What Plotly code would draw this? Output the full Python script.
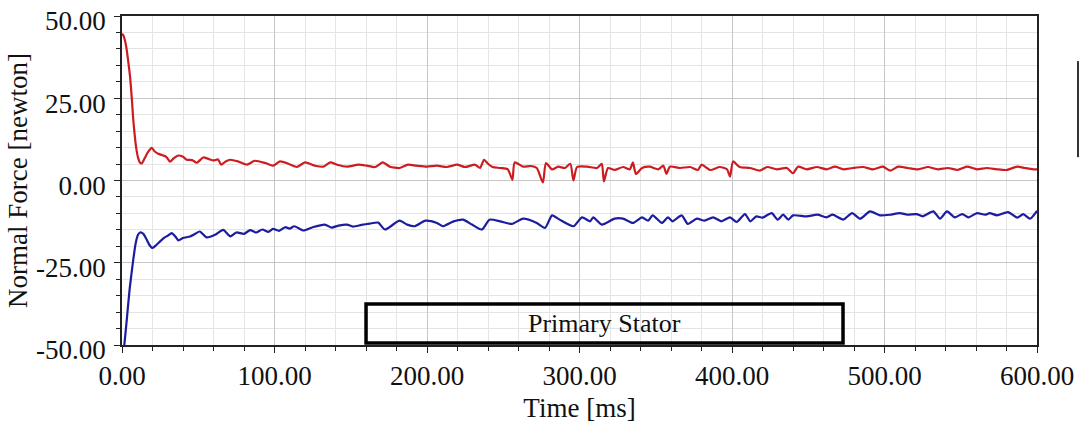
import plotly.graph_objects as go

# Time axis samples [ms] and normal force [newton] for the two traces
red_t = [0, 1, 2, 3, 4, 5.3, 6.5, 7.4, 8.5, 9.5, 10.6, 11.8, 13, 15, 17, 19.5, 21.5, 23.8, 27, 29,
         31.5, 34, 37, 40, 42.4, 46, 49, 53.3, 57, 60, 63, 65, 68, 71, 76, 82, 87, 94, 99, 103.6,
         109, 114.6, 120, 126.6, 132, 136.5, 141, 147.5, 155, 160.6, 166, 171, 175.7, 182, 187.5,
         193, 200, 206.5, 213, 219.7, 225, 231.5, 234.8, 237.4, 240, 243, 248, 253, 256, 257.5,
         263, 268, 272, 276, 278, 282, 286, 290.5, 294, 296, 298.4, 305, 311.5, 314.6, 316, 318.7,
         323, 328.6, 333, 335, 337, 341, 346, 351.7, 355, 357, 359.3, 366, 372.5, 377.7, 380,
         385.6, 392, 396.7, 398.7, 400.7, 405, 411.8, 418.4, 423, 429.5, 436, 440, 443.3, 449,
         455.7, 462, 467.5, 473, 479, 486, 492.5, 499, 503.6, 509, 515.4, 522, 528.5, 535, 541.6,
         548, 554, 560.7, 567, 573.8, 580, 587, 592, 597.4, 600]
red_v = [44.6, 44.0, 42.5, 40.0, 36.5, 31.5, 24.5, 18.4, 13.0, 9.3, 6.8, 5.4, 5.2, 6.9, 8.6, 9.9,
         8.8, 8.1, 7.6, 7.2, 5.7, 6.8, 7.6, 7.2, 6.3, 6.2, 5.4, 7.0, 6.5, 6.1, 6.4, 4.8, 5.8, 6.3,
         5.8, 4.8, 6.0, 5.3, 4.5, 5.8, 5.1, 4.1, 5.5, 4.5, 4.2, 5.5, 4.8, 4.2, 4.8, 4.5, 4.1, 5.5,
         4.2, 3.8, 4.8, 4.5, 4.2, 4.5, 4.1, 4.8, 4.1, 4.8, 3.8, 6.3, 5.1, 4.1, 3.8, 3.4, 0.2, 5.5,
         4.2, 4.4, 3.8, -0.6, 5.3, 3.4, 4.2, 3.8, 5.1, 0.0, 4.1, 4.2, 3.8, 5.1, -0.3, 3.8, 3.2,
         4.1, 3.4, 5.5, 2.0, 3.8, 4.2, 3.4, 4.5, 2.0, 4.2, 3.8, 4.1, 3.2, 4.8, 3.2, 4.1, 3.4,
         1.2, 5.8, 4.1, 3.8, 3.0, 4.1, 3.4, 3.8, 2.2, 4.2, 3.4, 4.1, 3.4, 4.2, 3.4, 3.8, 4.1,
         3.4, 4.2, 3.0, 4.2, 3.8, 3.4, 4.1, 3.4, 3.8, 3.2, 4.2, 3.4, 3.8, 3.4, 3.2, 4.2, 3.8,
         3.4, 3.4]

blue_t = [0, 1.5, 3, 5, 7.4, 9, 10.5, 11.8, 14, 16, 18, 20, 22.5, 25, 28, 30, 32.6, 35, 37, 40,
          44.6, 48, 51, 55.5, 61, 66.4, 71, 75, 80, 84, 88, 92, 96, 99, 103, 107, 110, 113, 119,
          125, 133, 137.5, 142, 147.5, 151.5, 157, 162.5, 168, 172.5, 182, 187, 192, 199, 206.5,
          210.5, 217, 223.6, 229.5, 236, 241, 248, 255.7, 263, 272, 277.4, 282, 287, 296, 301.6,
          307, 309, 314.6, 323, 328.5, 335, 341, 345, 348, 354, 358, 361, 367, 371, 377, 382,
          387.6, 393, 398.7, 403, 408.5, 412, 416, 420, 426, 430, 433.5, 437, 440, 449, 456, 462,
          466, 473, 478.7, 484, 490.5, 497, 503.6, 510, 515, 521, 525, 532, 536.4, 541, 546, 551,
          555, 560.7, 566, 569, 573.8, 581, 587, 591, 595.4, 600]
blue_v = [-55, -50, -43, -33, -24, -19, -16.5, -15.8, -16.2, -17.8, -19.6, -20.5, -19.6, -18.5,
          -17.3, -16.8, -16.0, -17.0, -18.2, -17.5, -17.0, -16.2, -15.5, -17.3, -16.5, -15.0,
          -17.0, -15.8, -16.2, -15.1, -15.8, -14.9, -15.6, -14.7, -15.3, -14.2, -14.6, -13.9,
          -15.2, -14.2, -13.4, -14.3, -13.7, -13.4, -14.0, -13.5, -13.1, -12.8, -14.9, -12.2,
          -13.4, -13.9, -12.2, -12.9, -13.9, -12.5, -11.9, -13.4, -14.9, -11.9, -12.4, -13.2,
          -11.6, -12.9, -14.4, -10.6, -11.9, -13.9, -11.2, -12.4, -11.2, -13.4, -11.6, -11.6,
          -12.9, -11.2, -12.2, -10.6, -12.9, -11.2, -12.4, -10.6, -13.2, -11.6, -12.2, -11.2,
          -12.4, -11.2, -12.6, -10.2, -12.4, -10.9, -11.3, -9.9, -11.9, -10.4, -11.9, -10.6,
          -10.9, -10.4, -11.2, -10.4, -11.9, -9.9, -11.6, -9.4, -10.6, -10.4, -9.9, -10.4,
          -10.2, -10.9, -9.4, -11.6, -9.4, -11.2, -10.2, -11.2, -9.9, -10.4, -9.9, -10.6, -9.6,
          -11.3, -10.2, -11.6, -9.2]

x_ticks = [0, 100, 200, 300, 400, 500, 600]
x_labels = ["0.00", "100.00", "200.00", "300.00", "400.00", "500.00", "600.00"]
y_ticks = [-50, -25, 0, 25, 50]
y_labels = ["-50.00", "-25.00", "0.00", "25.00", "50.00"]

SERIF = "Liberation Serif, Times New Roman, serif"
TEXT = "#111"

fig = go.Figure()
fig.add_trace(go.Scatter(x=red_t, y=red_v, mode="lines",
                         line=dict(color="rgb(205,28,32)", width=2.2, shape="spline",
                                   smoothing=0.6),
                         showlegend=False))
fig.add_trace(go.Scatter(x=blue_t, y=blue_v, mode="lines",
                         line=dict(color="rgb(28,28,160)", width=2.2, shape="spline",
                                   smoothing=0.6),
                         showlegend=False))

axis_common = dict(
    automargin=False,
    showline=True, linecolor="#222", linewidth=1.5, mirror=True,
    ticks="outside", tickcolor="#222", ticklen=6, tickwidth=1,
    showgrid=True, gridcolor="#c6c6c6", gridwidth=1,
    zeroline=False, ticklabeloverflow="allow",
    tickfont=dict(family=SERIF, size=27, color=TEXT),
)

fig.update_xaxes(
    range=[0, 600], tickvals=x_ticks, ticktext=x_labels, **axis_common,
    ticklabelstandoff=0,
    minor=dict(dtick=20, showgrid=True, gridcolor="#e4e4e4", ticks="outside", ticklen=4,
               tickcolor="#222"),
    title=dict(text="Time [ms]", font=dict(family=SERIF, size=27, color=TEXT), standoff=8),
)
fig.update_yaxes(
    range=[-50, 50], tickvals=y_ticks, ticktext=y_labels, **axis_common,
    ticklabelstandoff=3, ticklabelshift=5,
    minor=dict(dtick=5, showgrid=True, gridcolor="#e4e4e4", ticks="outside", ticklen=4,
               tickcolor="#222"),
    title=dict(text="Normal Force [newton]", font=dict(family=SERIF, size=27, color=TEXT),
               standoff=1),
)

# Boxed label for the stator
fig.add_shape(type="rect", xref="paper", yref="paper", x0=0.2667, x1=0.788, y0=0.006, y1=0.125,
              line=dict(color="black", width=3.5), fillcolor="rgba(0,0,0,0)", layer="above")
fig.add_annotation(text="Primary Stator", xref="paper", yref="paper", x=0.527, y=0.066,
                   xanchor="center", yanchor="middle", showarrow=False,
                   font=dict(family=SERIF, size=26, color=TEXT))

# Edge of the legend frame at the right
fig.add_shape(type="line", xref="paper", yref="paper", x0=1.0448, x1=1.0448, y0=0.571, y1=0.863,
              line=dict(color="#333", width=2))

fig.update_layout(
    width=1083, height=426,
    margin=dict(l=122, r=46, t=16, b=81),
    paper_bgcolor="white", plot_bgcolor="white",
)

fig.write_html("out.html")
